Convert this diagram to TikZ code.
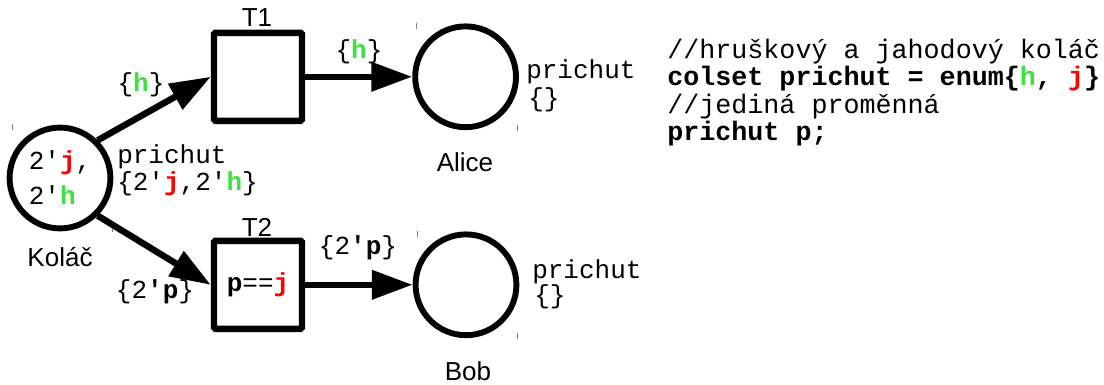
\documentclass[tikz,border=0pt]{standalone}
\usepackage{fontspec}
\setmainfont{Liberation Sans}
\setmonofont{Liberation Mono}
\usetikzlibrary{arrows.meta}
\definecolor{hgreen}{RGB}{64,224,64}
\definecolor{jred}{RGB}{255,0,0}

\begin{document}
\begin{tikzpicture}[
  place/.style={circle, draw, line width=4.2pt, minimum size=2.52cm, inner sep=0pt},
  transition/.style={rectangle, draw, line width=4.6pt, minimum size=2.2cm, rounded corners=1pt, inner sep=0pt},
  arc/.style={line width=4.6pt, -{Triangle[length=29pt,width=20pt]}},
  mono/.style={font=\ttfamily\fontsize{18.5}{25}\selectfont, inner sep=0pt},
  code/.style={font=\ttfamily\fontsize{19}{27}\selectfont, inner sep=0pt, anchor=base west},
  sans/.style={font=\fontsize{18.5}{22}\selectfont, inner sep=0pt, anchor=base},
  tick/.style={gray, line width=0.6pt}]
\useasboundingbox (0,0) rectangle (27.6,-9.625);

\node[place, mono, align=left] (kolac) at (1.5,-4.45) {2'\textbf{\color{jred}j},\\2'\textbf{\color{hgreen}h}};
\node[sans] (kolaclabel) at (1.5,-6.675) {Koláč};
\node[mono, anchor=base west] (kolactype) at (2.925,-4.09) {prichut};
\node[mono, anchor=base west] (kolacmark) at (2.925,-4.76) {\{2'\textbf{\color{jred}j},2'\textbf{\color{hgreen}h}\}};
\draw[tick] (kolac.center) ++(-1.2,1.35) -- ++(0,-0.16);
\draw[tick] (kolac.center) ++(1.3,-1.2) -- ++(0,-0.16);


\node[transition] (t1) at (6.45,-1.92) {};
\node[sans] (t1label) at (6.425,-0.675) {T1};
\draw[arc] (kolac.north east) -- (t1.west);
\node[mono] (arch1) at (3.525,-2.125) {\{\textbf{\color{hgreen}h}\}};


\node[transition, mono] (t2) at (6.45,-7.12) {\textbf{p}==\textbf{\color{jred}j}};
\node[sans] (t2label) at (6.425,-5.91) {T2};
\draw[arc] (kolac.south east) -- (t2.west);
\node[mono] (arcp1) at (3.875,-7.3) {\{2\textbf{'p}\}};


\node[place] (alice) at (11.64,-1.92) {};
\node[sans] (alicelabel) at (11.625,-4.3) {Alice};
\node[mono, anchor=base west] (alicetype) at (13.15,-1.96) {prichut};
\node[mono, anchor=base west] (alicemark) at (13.2,-2.67) {\{\}};
\draw[tick] (alice.center) ++(-1.225,1.35) -- ++(0,-0.16);
\draw[tick] (alice.center) ++(1.29,-1.2) -- ++(0,-0.16);
\draw[arc] (t1) -- (alice);
\node[mono] (arch2) at (8.975,-1.3) {\{\textbf{\color{hgreen}h}\}};


\node[place] (bob) at (11.65,-7.12) {};
\node[sans] (boblabel) at (11.7,-9.525) {Bob};
\node[mono, anchor=base west] (bobtype) at (13.3,-6.96) {prichut};
\node[mono, anchor=base west] (bobmark) at (13.35,-7.6) {\{\}};
\draw[tick] (bob.center) ++(-1.225,1.35) -- ++(0,-0.16);
\draw[tick] (bob.center) ++(1.29,-1.2) -- ++(0,-0.16);
\draw[arc] (t2) -- (bob);
\node[mono] (arcp2) at (8.95,-6.2) {\{2\textbf{'p}\}};


\node[code] (line1) at (16.675,-1.465) {//hruškový a jahodový koláč};
\node[code] (line2) at (16.675,-2.14) {\textbf{colset prichut = enum\{{\color{hgreen}h}, {\color{jred}j}\}}};
\node[code] (line3) at (16.675,-2.84) {//jediná proměnná};
\node[code] (line4) at (16.675,-3.515) {\textbf{prichut p;}};

\end{tikzpicture}
\end{document}
